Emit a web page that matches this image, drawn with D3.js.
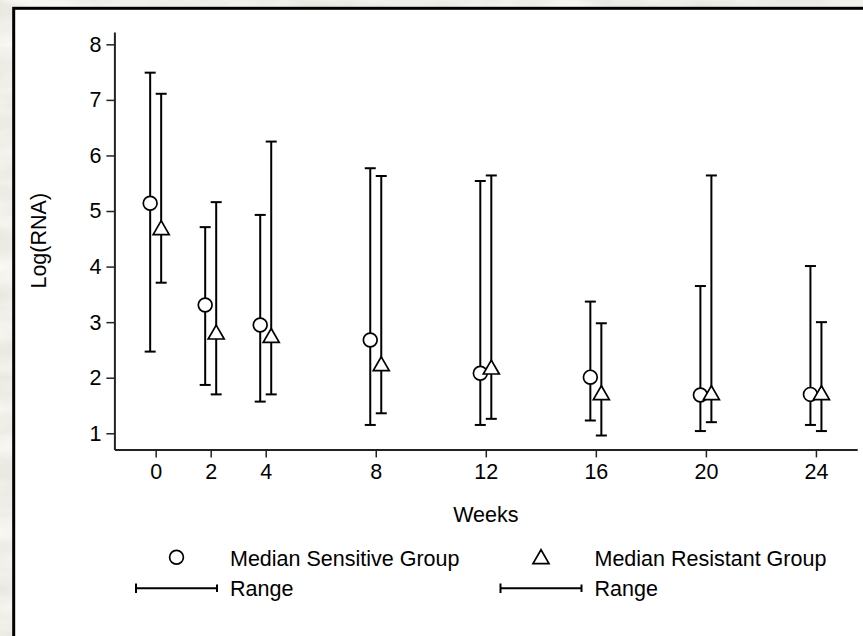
<!DOCTYPE html>
<html>
<head>
<meta charset="utf-8">
<script src="https://cdn.jsdelivr.net/npm/d3@7"></script>
<style>
  html, body { margin: 0; padding: 0; background: #dcdad1; }
  svg { display: block; }
  text { font-family: "Liberation Sans", Arial, Helvetica, sans-serif; fill: #000; }
</style>
</head>
<body>
<svg id="chart" width="863" height="636"></svg>
<script>
// Study visits (weeks) and log viral RNA summaries per group
const weeks = [0, 2, 4, 8, 12, 16, 20, 24];
const sensMedian = [5.14, 3.31, 2.95, 2.68, 2.08, 2.01, 1.69, 1.70];
const sensMin    = [2.47, 1.87, 1.57, 1.15, 1.15, 1.23, 1.04, 1.15];
const sensMax    = [7.49, 4.71, 4.93, 5.77, 5.54, 3.37, 3.65, 4.01];
const resMedian  = [4.66, 2.78, 2.72, 2.21, 2.15, 1.69, 1.69, 1.69];
const resMin     = [3.71, 1.70, 1.70, 1.36, 1.26, 0.96, 1.20, 1.04];
const resMax     = [7.11, 5.16, 6.25, 5.63, 5.64, 2.98, 5.64, 3.00];
const yTicks = [1, 2, 3, 4, 5, 6, 7, 8];
const xTicks = [0, 2, 4, 8, 12, 16, 20, 24];
const groupLabels = ["Median Sensitive Group", "Median Resistant Group"];
const rangeLabel = "Range";
const xTitle = "Weeks";
const yTitle = "Log(RNA)";

// side-by-side shift of the two groups at each visit (weeks)
const dodge = 0.2;

const svg = d3.select("#chart");
const W = 863, H = 636;

// stone-like backdrop around the framed panel
const defs = svg.append("defs");
const f = defs.append("filter").attr("id", "stone")
  .attr("x", 0).attr("y", 0).attr("width", "100%").attr("height", "100%");
f.append("feTurbulence").attr("type", "fractalNoise")
  .attr("baseFrequency", "0.012 0.035").attr("numOctaves", 4).attr("seed", 7).attr("result", "n");
f.append("feColorMatrix").attr("in", "n").attr("type", "matrix")
  .attr("values", "0 0 0 0.26 0.74  0 0 0 0.26 0.73  0 0 0 0.26 0.68  0 0 0 0 1");
svg.append("rect").attr("width", W).attr("height", H).attr("fill", "#dcdad1");
svg.append("rect").attr("width", W).attr("height", H).attr("filter", "url(#stone)");

// white panel with dark frame
svg.append("rect")
  .attr("x", 13.7).attr("y", 8.3)
  .attr("width", W + 20).attr("height", H + 20)
  .attr("fill", "#fff").attr("stroke", "#000").attr("stroke-width", 3);

const x = d3.scaleLinear().domain([-1.5, 25.5]).range([114.4, 857.2]);
const y = d3.scaleLinear().domain([0.71, 8.22]).range([449.4, 32.1]);

const fontSize = 21.5;
const fontFamily = '"Liberation Sans", Arial, Helvetica, sans-serif';

// y axis
const yAxis = svg.append("g")
  .attr("transform", `translate(${x(-1.5)},0)`)
  .call(d3.axisLeft(y).tickValues(yTicks).tickSize(8).tickSizeOuter(0).tickPadding(5).tickFormat(d3.format("d")));
yAxis.select(".domain").attr("stroke", "#222").attr("stroke-width", 2);
yAxis.selectAll(".tick line").attr("stroke", "#222").attr("stroke-width", 1.5);
yAxis.selectAll(".tick text").attr("font-size", fontSize)
  .attr("font-family", fontFamily).attr("fill", "#000");

// x axis
const xAxis = svg.append("g")
  .attr("transform", `translate(0,${y(0.71)})`)
  .call(d3.axisBottom(x).tickValues(xTicks).tickSize(8).tickSizeOuter(0).tickPadding(6).tickFormat(d3.format("d")));
xAxis.select(".domain").attr("stroke", "#222").attr("stroke-width", 2);
xAxis.selectAll(".tick line").attr("stroke", "#222").attr("stroke-width", 1.5);
xAxis.selectAll(".tick text").attr("font-size", fontSize)
  .attr("font-family", fontFamily).attr("fill", "#000");

// axis titles
svg.append("text")
  .attr("x", (x(-1.5) + x(25.5)) / 2).attr("y", 521.5)
  .attr("text-anchor", "middle").attr("font-size", fontSize)
  .text(xTitle);
svg.append("text")
  .attr("transform", `translate(45.5,${(y(0.71) + y(8.22)) / 2}) rotate(-90)`)
  .attr("text-anchor", "middle").attr("font-size", fontSize)
  .text(yTitle);

const cap = 5.5;
const circleR = 6.9;
const triSize = 111;
const triangle = d3.symbol().type(d3.symbolTriangle).size(triSize);

function rangeBars(g, xs, lo, hi) {
  const rows = xs.map((w, i) => ({ w, lo: lo[i], hi: hi[i] }));
  const grp = g.append("g").attr("stroke", "#000").attr("stroke-width", 2).attr("fill", "none");
  grp.selectAll("line.v").data(rows).join("line")
    .attr("x1", d => x(d.w)).attr("x2", d => x(d.w))
    .attr("y1", d => y(d.lo)).attr("y2", d => y(d.hi));
  grp.selectAll("line.t").data(rows).join("line")
    .attr("x1", d => x(d.w) - cap).attr("x2", d => x(d.w) + cap)
    .attr("y1", d => y(d.hi)).attr("y2", d => y(d.hi));
  grp.selectAll("line.b").data(rows).join("line")
    .attr("x1", d => x(d.w) - cap).attr("x2", d => x(d.w) + cap)
    .attr("y1", d => y(d.lo)).attr("y2", d => y(d.lo));
}

const plot = svg.append("g");
const sensX = weeks.map(w => w - dodge);
const resX = weeks.map(w => w + dodge);
rangeBars(plot, sensX, sensMin, sensMax);
rangeBars(plot, resX, resMin, resMax);

plot.append("g").selectAll("circle").data(sensMedian).join("circle")
  .attr("cx", (d, i) => x(sensX[i])).attr("cy", d => y(d))
  .attr("r", circleR).attr("fill", "#fff").attr("stroke", "#000").attr("stroke-width", 1.7);
plot.append("g").selectAll("path").data(resMedian).join("path")
  .attr("d", triangle)
  .attr("transform", (d, i) => `translate(${x(resX[i])},${y(d)})`)
  .attr("fill", "#fff").attr("stroke", "#000").attr("stroke-width", 1.7);

// legend: two columns, marker row then range row
const legend = svg.append("g");
const colStep = 364.5;
[0, 1].forEach(k => {
  const cx = 176.5 + k * colStep;
  const tx = 230 + k * colStep;
  if (k === 0) {
    legend.append("circle").attr("cx", cx).attr("cy", 557.3).attr("r", circleR)
      .attr("fill", "none").attr("stroke", "#000").attr("stroke-width", 1.7);
  } else {
    legend.append("path").attr("d", triangle)
      .attr("transform", `translate(${cx},${559})`)
      .attr("fill", "none").attr("stroke", "#000").attr("stroke-width", 1.7);
  }
  legend.append("text").attr("x", tx).attr("y", 565.5).attr("font-size", fontSize).text(groupLabels[k]);
  const lg = legend.append("g").attr("stroke", "#000").attr("stroke-width", 2);
  lg.append("line").attr("x1", cx - 40.5).attr("x2", cx + 40.5).attr("y1", 588.3).attr("y2", 588.3);
  lg.append("line").attr("x1", cx - 40.5).attr("x2", cx - 40.5).attr("y1", 583.5).attr("y2", 593);
  lg.append("line").attr("x1", cx + 40.5).attr("x2", cx + 40.5).attr("y1", 584.5).attr("y2", 592);
  legend.append("text").attr("x", tx).attr("y", 596).attr("font-size", fontSize).text(rangeLabel);
});
</script>
</body>
</html>
